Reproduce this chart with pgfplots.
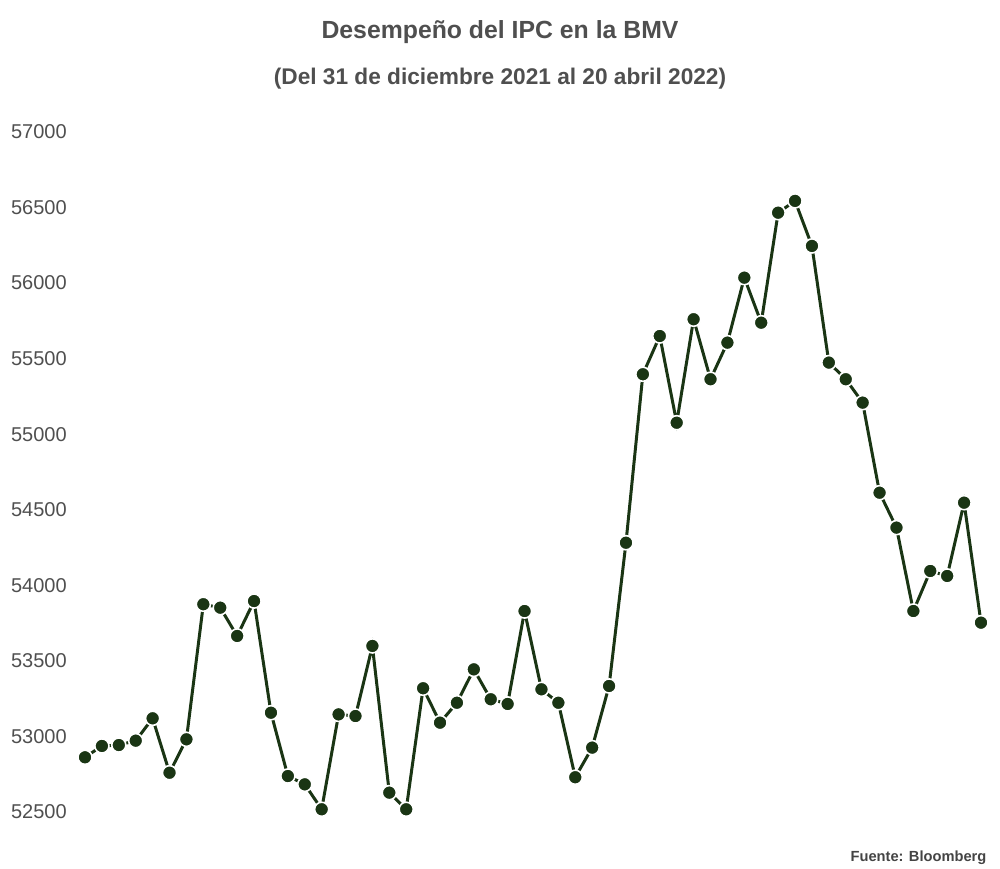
\documentclass[border=0pt]{standalone}
\usepackage{pgfplots}
\pgfplotsset{compat=1.18}
\usepackage{fontspec}
\setmainfont{Liberation Sans}
\definecolor{ipc}{HTML}{1A3514}
\definecolor{txt}{HTML}{4F4F4F}
\definecolor{src}{HTML}{444444}
\begin{document}
\begin{tikzpicture}
\useasboundingbox (0,0) rectangle (750pt,651pt);
\begin{axis}[
  at={(63.75pt,42pt)}, anchor=south west,
  scale only axis, width=672pt, height=510pt,
  xmin=0, xmax=53, ymin=52500, ymax=57000,
  clip=false,
  hide x axis,
  axis y line*=left,
  y axis line style={draw=none},
  major tick length=0pt,
  scaled y ticks=false,
  ytick={52500,53000,...,57000},
  yticklabel style={inner sep=0pt, xshift=-13.5pt, font=\fontsize{15pt}{15pt}\selectfont, text=txt},
  yticklabel={\pgfmathprintnumber[fixed, precision=0, set thousands separator={}, assume math mode=true]{\tick}},
]
\addplot[color=ipc, line width=2.25pt, mark=*, mark size=5.3pt,
  mark options={fill=ipc, draw=white, line width=1.2pt}] table {
x y
0 52862
1 52937
2 52943
3 52972
4 53120
5 52760
6 52981
7 53875
8 53852
9 53665
10 53896
11 53157
12 52738
13 52683
14 52518
15 53146
16 53135
17 53599
18 52628
19 52518
20 53319
21 53091
22 53223
23 53444
24 53246
25 53215
26 53830
27 53312
28 53223
29 52730
30 52926
31 53334
32 54282
33 55397
34 55650
35 55076
36 55761
37 55364
38 55606
39 56036
40 55738
41 56466
42 56544
43 56246
44 55474
45 55364
46 55209
47 54613
48 54382
49 53830
50 54095
51 54062
52 54547
53 53753
};
\end{axis}
\node[anchor=base, inner sep=0pt, text=txt, font=\fontsize{18.6pt}{18.6pt}\selectfont\bfseries] at (375pt,621.75pt) {Desempeño del IPC en la BMV};
\node[anchor=base, inner sep=0pt, text=txt, font=\fontsize{17pt}{17pt}\selectfont\bfseries] at (375pt,587.25pt) {(Del 31 de diciembre 2021 al 20 abril 2022)};
\node[anchor=base east, inner sep=0pt, text=src, font=\fontsize{11pt}{11pt}\selectfont\bfseries] at (740pt,4.75pt) {Fuente: Bloomberg};
\end{tikzpicture}
\end{document}
